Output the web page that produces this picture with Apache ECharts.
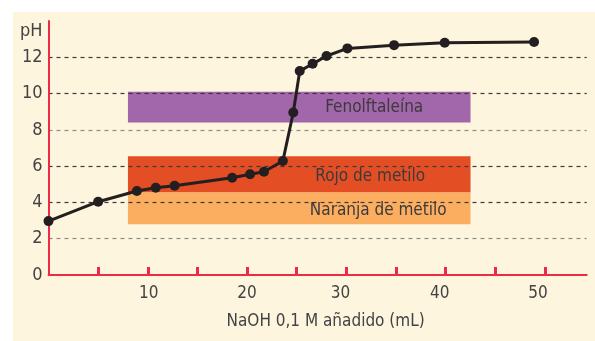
<!DOCTYPE html>
<html>
<head>
<meta charset="utf-8">
<script src="https://cdn.jsdelivr.net/npm/echarts@6/dist/echarts.min.js"></script>
<style>
  html, body { margin: 0; padding: 0; background: #ffffff; }
  #chart { width: 595px; height: 341px; }
</style>
</head>
<body>
<div id="chart"></div>
<script>
// Titration curve: volume of NaOH 0.1 M added (mL) vs pH
const volumes = [0, 5, 8.9, 10.8, 12.7, 18.5, 20.3, 21.7, 23.6, 24.65, 25.3, 26.6, 28.0, 30.1, 34.8, 39.9, 48.9];
const phValues = [2.97, 4.04, 4.63, 4.81, 4.92, 5.36, 5.55, 5.69, 6.28, 8.96, 11.24, 11.64, 12.07, 12.49, 12.67, 12.8, 12.84];

// Indicator turning ranges
const indicatorNames = ['Fenolftaleína', 'Rojo de metilo', 'Naranja de metilo'];
const indicatorLow = [8.4, 4.55, 2.8];
const indicatorHigh = [10.1, 6.55, 4.55];
const bandFrom = 8;
const bandTo = 42.5;

// Axis ticks and labels
const xTickValues = [5, 10, 15, 20, 25, 30, 35, 40, 45, 50];
const xLabelValues = [10, 20, 30, 40, 50];
const yLabelValues = [0, 2, 4, 6, 8, 10, 12];
const yTitle = 'pH';
const xTitle = 'NaOH 0,1 M añadido (mL)';

const FONT = '"Liberation Sans Narrow", "DejaVu Sans Condensed", "Roboto", sans-serif';
const TEXT = '#454244';
const RED = '#ee2a47';
const FS = 17;
const bandColors = ['#a266aa', '#e34e25', '#fbae60'];
const bandLabelOffsets = [[75, 0], [71, 2], [79, 2]];
const xLabelShift = { 10: 1, 20: 0, 30: -6, 40: -6, 50: -7 };

const points = volumes.map((v, i) => [v, phValues[i]]);

const xRich = {};
xLabelValues.forEach(v => {
  const s = xLabelShift[v] || 0;
  xRich['v' + v] = {
    fontFamily: FONT, fontSize: FS, color: TEXT,
    padding: s < 0 ? [0, -2 * s, 0, 0] : [0, 0, 0, 2 * s]
  };
});

const markAreaData = indicatorNames.map((name, i) => [
  {
    name: name,
    xAxis: bandFrom,
    yAxis: indicatorLow[i],
    itemStyle: { color: bandColors[i], opacity: 1 },
    label: { offset: bandLabelOffsets[i] }
  },
  { xAxis: bandTo, yAxis: indicatorHigh[i] }
]);

const chart = echarts.init(document.getElementById('chart'), null, { renderer: 'canvas' });
chart.setOption({
  animation: false,
  backgroundColor: '#ffffff',
  graphic: [{
    type: 'rect',
    left: 13, top: 12,
    shape: { width: 582, height: 329 },
    style: { fill: '#fdf5de' },
    z: -10,
    silent: true
  }],
  grid: { left: 48.5, right: 8.3, top: 21, bottom: 66, containLabel: false },
  xAxis: {
    type: 'value',
    min: 0,
    max: 54.2,
    interval: 5,
    z: 2,
    axisLine: { show: true, lineStyle: { color: RED, width: 2 } },
    axisTick: {
      show: true, inside: true, length: 8,
      customValues: xTickValues,
      lineStyle: { color: RED, width: 3 }
    },
    axisLabel: {
      margin: 10,
      customValues: xLabelValues,
      formatter: v => '{v' + v + '|' + v + '}',
      rich: xRich
    },
    splitLine: { show: false },
    name: xTitle,
    nameLocation: 'middle',
    nameGap: 38,
    nameTextStyle: { fontFamily: FONT, fontSize: FS, color: TEXT, padding: [0, 0, 0, 16] }
  },
  yAxis: {
    type: 'value',
    min: 0,
    max: 14,
    interval: 2,
    z: 2,
    axisLine: { show: true, lineStyle: { color: RED, width: 2 } },
    axisTick: { show: false },
    axisLabel: {
      margin: 6,
      formatter: v => (v === 14 ? '{p|' + yTitle + '}' : (yLabelValues.indexOf(v) >= 0 ? String(v) : '')),
      fontFamily: FONT, fontSize: FS + 1, color: TEXT,
      rich: { p: { fontFamily: FONT, fontSize: FS + 1, color: TEXT, padding: [20, 0, 0, 0] } }
    },
    splitLine: {
      show: true,
      lineStyle: {
        color: ['rgba(0,0,0,0)', '#8f8c88', '#3a3838', '#3a3838', '#8f8c88', '#3a3838', '#3a3838', 'rgba(0,0,0,0)'],
        width: 1.2,
        type: [4, 4]
      }
    }
  },
  series: [{
    type: 'line',
    data: points,
    z: 3,
    clip: false,
    symbol: 'circle',
    symbolSize: 10,
    lineStyle: { color: '#231f20', width: 3 },
    itemStyle: { color: '#231f20' },
    markArea: {
      silent: true,
      z: 1,
      label: {
        show: true,
        position: 'inside',
        fontFamily: FONT,
        fontSize: FS,
        color: '#3d3a3c'
      },
      data: markAreaData
    }
  }]
});
</script>
</body>
</html>
